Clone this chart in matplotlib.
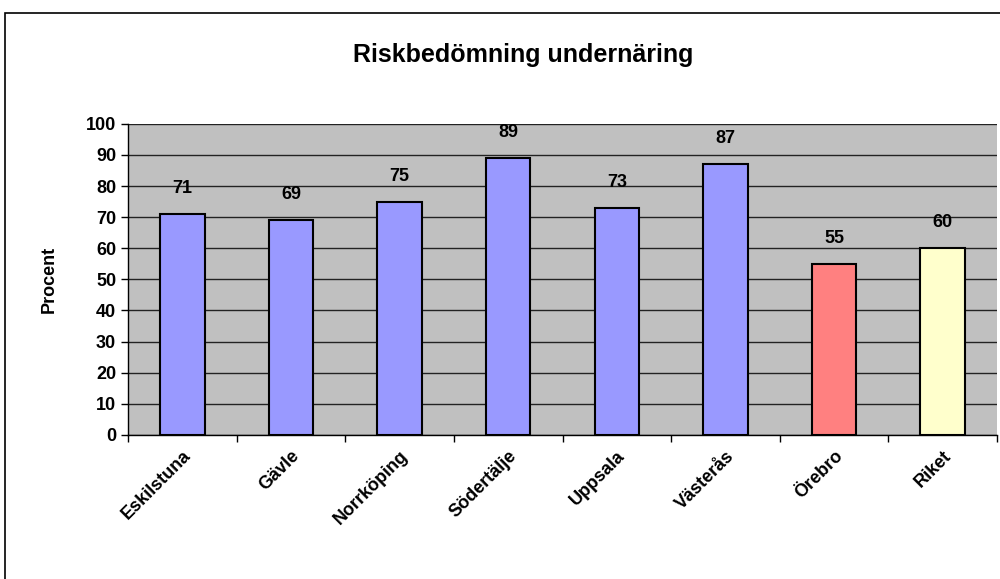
import matplotlib.pyplot as plt
from matplotlib.patches import Rectangle

cities = ['Eskilstuna', 'Gävle', 'Norrköping', 'Södertälje', 'Uppsala', 'Västerås', 'Örebro', 'Riket']
values = [71, 69, 75, 89, 73, 87, 55, 60]
colors = ['#9999FF'] * 6 + ['#FF8080', '#FFFFCC']
yticks = list(range(0, 101, 10))

plt.rcParams['font.family'] = ['Liberation Sans', 'DejaVu Sans']
plt.rcParams['font.weight'] = 'bold'

fig = plt.figure(figsize=(10, 5.79), dpi=100)
ax = fig.add_axes([0.128, 0.249, 0.869, 0.537])

# outer chart border
fig.patches.append(Rectangle((0.005, -0.1), 1.2, 1.1 - 13 / 579, transform=fig.transFigure,
                             fill=False, edgecolor='black', linewidth=1.2))

x = list(range(len(cities)))
ax.set_facecolor('#C0C0C0')
ax.bar(x, values, width=0.41, color=colors, edgecolor='black', linewidth=1.5, zorder=3)
for xi, v in zip(x, values):
    ax.text(xi, v + 5.5, str(v), ha='center', va='bottom', fontsize=13, fontweight='bold')

ax.set_xlim(-0.5, len(cities) - 0.5)
ax.set_ylim(0, 100)
ax.set_yticks(yticks)
ax.yaxis.grid(True, color='#222222', linewidth=1, zorder=0)
ax.set_axisbelow(True)
ax.tick_params(axis='y', labelsize=13, length=5, width=1)
ax.set_xticks([i - 0.5 for i in range(len(cities) + 1)], minor=False)
ax.set_xticklabels([])
ax.set_xticks(x, minor=True)
ax.set_xticklabels(cities, minor=True, rotation=45, ha='right', rotation_mode='anchor', fontsize=13)
ax.tick_params(axis='x', which='minor', length=0, pad=9)
ax.tick_params(axis='x', which='major', length=5, width=1)

for s in ['top', 'right']:
    ax.spines[s].set_visible(False)
for s in ['left', 'bottom']:
    ax.spines[s].set_linewidth(1)

ax.set_ylabel('Procent', fontsize=13, fontweight='bold', labelpad=20)
fig.text(0.523, 0.905, 'Riskbedömning undernäring', ha='center', va='center', fontsize=18, fontweight='bold')

fig.savefig('out.png', dpi=100)
